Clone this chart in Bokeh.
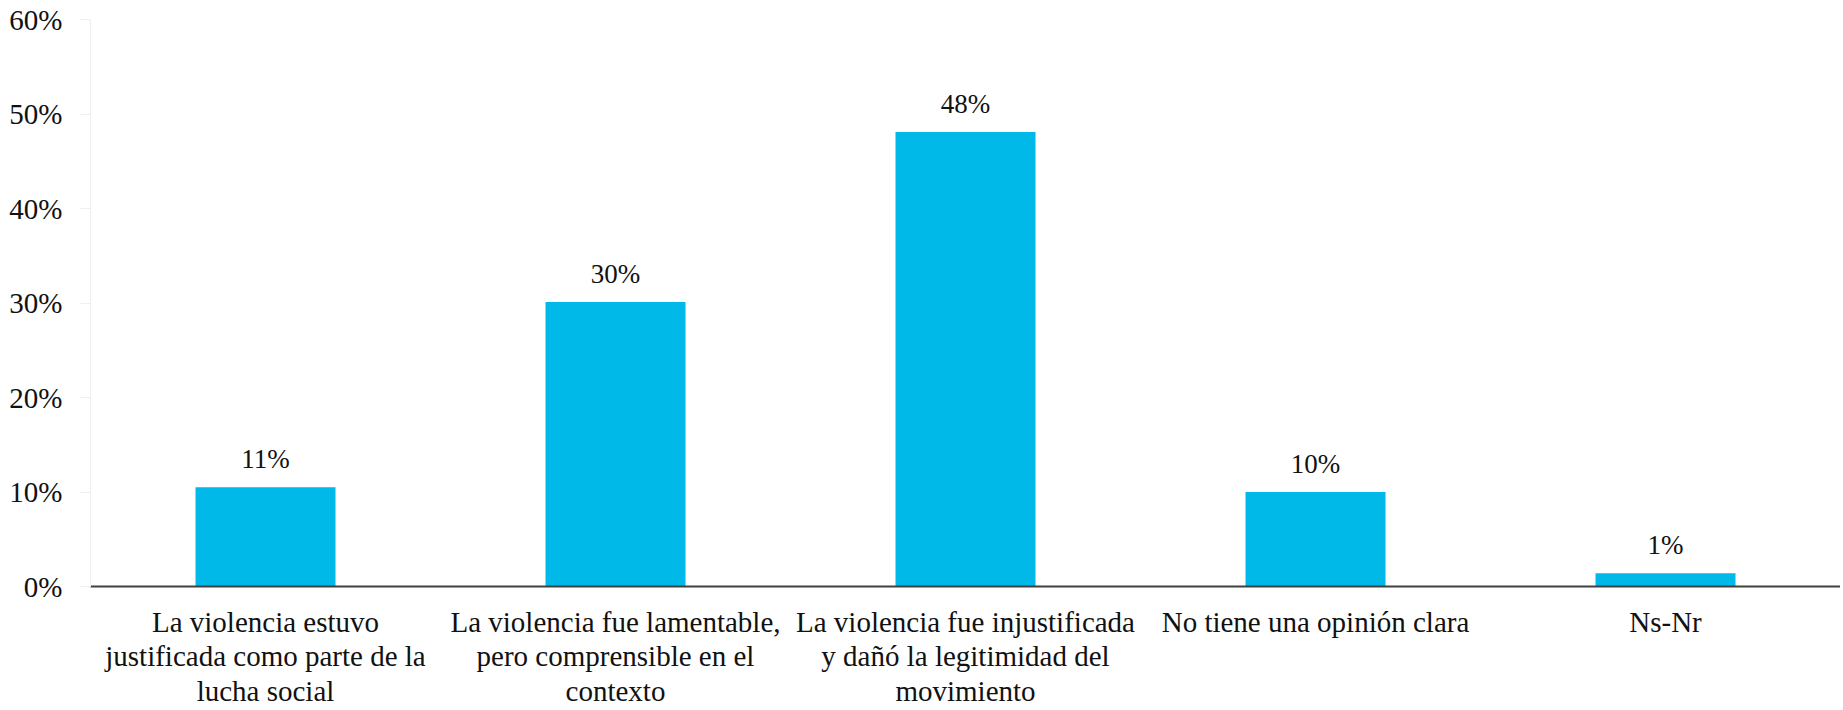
from bokeh.plotting import figure
from bokeh.models import ColumnDataSource, FactorRange, Range1d, FixedTicker, CustomJSTickFormatter
from bokeh.core.properties import value
from bokeh.embed import file_html
from bokeh.resources import INLINE

categories = [
    "La violencia estuvo\njustificada como parte de la\nlucha social",
    "La violencia fue lamentable,\npero comprensible en el\ncontexto",
    "La violencia fue injustificada\ny dañó la legitimidad del\nmovimiento",
    "No tiene una opinión clara",
    "Ns-Nr",
]
values = [10.5, 30.1, 48.1, 10.0, 1.4]
value_labels = ["11%", "30%", "48%", "10%", "1%"]
y_ticks = [0, 10, 20, 30, 40, 50, 60]

FONT = "Liberation Serif"
TEXT = "#111111"

src = ColumnDataSource(dict(cat=categories, val=values, lab=value_labels))

p = figure(
    x_range=FactorRange(*categories, range_padding=0, factor_padding=0),
    y_range=Range1d(0, 60),
    width=1840, height=710,
    output_backend="svg", toolbar_location=None,
    min_border_left=90, min_border_right=0, min_border_top=19, min_border_bottom=124,
)
p.outline_line_color = None
p.background_fill_color = "white"
p.border_fill_color = "white"

p.vbar(x="cat", top="val", width=0.4, source=src, fill_color="#00B9E8", line_color=None)
p.text(x="cat", y="val", text="lab", source=src, text_align="center", text_baseline="middle",
       y_offset=-28, text_font=value(FONT), text_font_size="27px", text_color=TEXT)

p.xgrid.grid_line_color = None
p.ygrid.grid_line_color = None

xa = p.xaxis[0]
xa.axis_line_color = "#404040"
xa.axis_line_width = 2
xa.major_tick_line_color = None
xa.minor_tick_line_color = None
xa.major_tick_out = 0
xa.major_tick_in = 0
xa.major_label_standoff = 19
xa.major_label_text_font = FONT
xa.major_label_text_font_size = "29px"
xa.major_label_text_color = TEXT
xa.major_label_text_line_height = 1.09
xa.major_label_orientation = "horizontal"

ya = p.yaxis[0]
ya.ticker = FixedTicker(ticks=y_ticks)
ya.formatter = CustomJSTickFormatter(code="return tick.toFixed(0) + '%';")
ya.axis_line_color = "#EFEFEF"
ya.major_tick_line_color = "#EFEFEF"
ya.major_tick_out = 10
ya.major_tick_in = 0
ya.minor_tick_line_color = None
ya.major_label_text_font = FONT
ya.major_label_text_font_size = "29px"
ya.major_label_text_color = TEXT
ya.major_label_standoff = 18

open("out.html", "w").write(file_html(p, INLINE))
